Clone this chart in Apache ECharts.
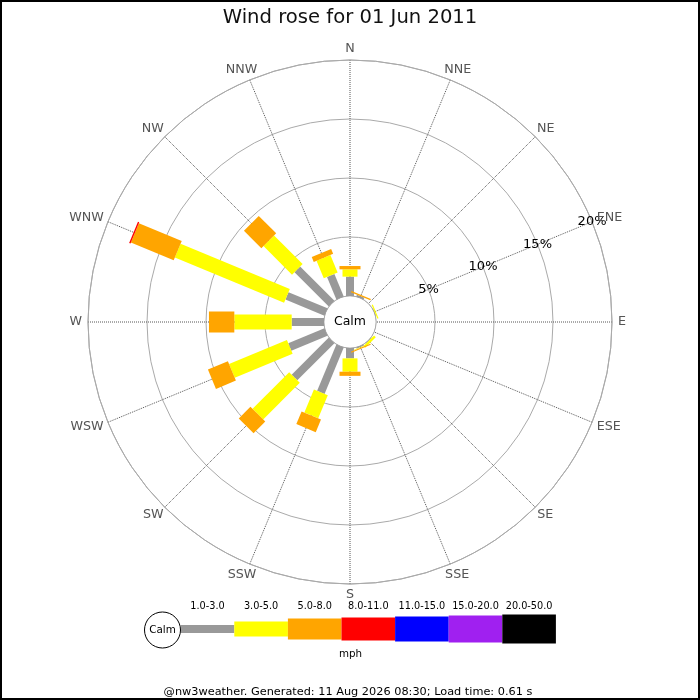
<!DOCTYPE html>
<html>
<head>
<meta charset="utf-8">
<title>Wind rose</title>
<script src="https://cdn.jsdelivr.net/npm/echarts@6/dist/echarts.min.js"></script>
<style>
  html, body { margin: 0; padding: 0; background: #fff; }
  #main { width: 700px; height: 700px; }
</style>
</head>
<body>
<div id="main"></div>
<script>
// compass points, clockwise from north
var directions = ['N', 'NNE', 'NE', 'ENE', 'E', 'ESE', 'SE', 'SSE', 'S', 'SSW', 'SW', 'WSW', 'W', 'WNW', 'NW', 'NNW'];
var speedBands = ['1.0-3.0', '3.0-5.0', '5.0-8.0', '8.0-11.0', '11.0-15.0', '15.0-20.0', '20.0-50.0'];
// % of time per direction, one array per speed band
var band1to3 = [1.64, 0.15, 0, 0.05, 0, 0, 0.05, 0.1, 0.88, 4.25, 4.45, 3.32, 2.74, 3.58, 4.11, 2.07];
var band3to5 = [0.62, 0, 0, 0.1, 0, 0, 0.2, 0.05, 1.13, 2.12, 4.39, 5.31, 4.86, 10.02, 3.42, 1.61];
var band5to8 = [0.28, 0.12, 0, 0, 0, 0, 0, 0.1, 0.35, 1.16, 1.40, 1.83, 2.15, 3.93, 2.09, 0.44];
var band8to11 = [0, 0, 0, 0, 0, 0, 0, 0, 0, 0, 0, 0, 0, 0.12, 0, 0];
var band11to15 = [0, 0, 0, 0, 0, 0, 0, 0, 0, 0, 0, 0, 0, 0, 0, 0];
var band15to20 = [0, 0, 0, 0, 0, 0, 0, 0, 0, 0, 0, 0, 0, 0, 0, 0];
var band20to50 = [0, 0, 0, 0, 0, 0, 0, 0, 0, 0, 0, 0, 0, 0, 0, 0];
var radiusTicks = [5, 10, 15, 20];

var bands = [band1to3, band3to5, band5to8, band8to11, band11to15, band15to20, band20to50];
// colour and bar thickness (px) of each band
var bandStyle = [
    {color: '#999999', width: 8},
    {color: '#ffff00', width: 15},
    {color: '#ffa500', width: 21},
    {color: '#ff0000', width: 23},
    {color: '#0000ff', width: 25},
    {color: '#a020f0', width: 27},
    {color: '#000000', width: 29}
];
var font = 'DejaVu Sans';
var dirFont = '12.7px "DejaVu Sans"';
var legFont = '10.8px "DejaVu Sans Condensed", "DejaVu Sans"';

var myChart = echarts.init(document.getElementById('main'));

// for measuring the compass labels
var ctx = document.createElement('canvas').getContext('2d');
ctx.font = dirFont;

// running totals so that each band starts where the previous one ended
var stacked = [];
var base = directions.map(function () { return 0; });
bands.forEach(function (b, k) {
    stacked.push(directions.map(function (d, i) {
        var s = base[i];
        base[i] += b[i];
        return [s, i * 22.5, base[i]];
    }));
});

function bandSeries(k) {
    return {
        type: 'custom',
        coordinateSystem: 'polar',
        name: speedBands[k],
        silent: true,
        data: stacked[k],
        renderItem: function (params, api) {
            var r0 = api.value(0), ang = api.value(1), r1 = api.value(2);
            if (r1 - r0 <= 0) return;
            var p0 = api.coord([r0, ang]);
            var p1 = api.coord([r1, ang]);
            var cx = params.coordSys.cx, cy = params.coordSys.cy;
            var dx = p1[0] - cx, dy = p1[1] - cy;
            var len = Math.sqrt(dx * dx + dy * dy);
            var nx = -dy / len * bandStyle[k].width / 2;
            var ny = dx / len * bandStyle[k].width / 2;
            return {
                type: 'polygon',
                shape: {points: [
                    [p0[0] + nx, p0[1] + ny], [p1[0] + nx, p1[1] + ny],
                    [p1[0] - nx, p1[1] - ny], [p0[0] - nx, p0[1] - ny]
                ]},
                style: {fill: bandStyle[k].color}
            };
        }
    };
}

var series = bands.map(function (b, k) { return bandSeries(k); });

// % labels along the ENE spoke
series.push({
    type: 'custom',
    coordinateSystem: 'polar',
    silent: true,
    z: 5,
    data: radiusTicks.map(function (v) { return [v, 67.5, v]; }),
    renderItem: function (params, api) {
        var p = api.coord([api.value(0), api.value(1)]);
        return {
            type: 'text',
            style: {
                text: api.value(0) + '%', x: p[0], y: p[1],
                textAlign: 'center', align: 'center',
                textVerticalAlign: 'middle', verticalAlign: 'middle',
                font: '13px "' + font + '"', fill: '#000'
            }
        };
    }
});

// compass labels just outside the outer ring
series.push({
    type: 'custom',
    coordinateSystem: 'polar',
    silent: true,
    z: 5,
    data: directions.map(function (d, i) { return [20, i * 22.5, i]; }),
    renderItem: function (params, api) {
        var cs = params.coordSys;
        var name = directions[api.value(2)];
        var th = (90 - api.value(1)) * Math.PI / 180;
        var rr = cs.r + 6;
        var w = ctx.measureText(name).width;
        var x = cs.cx + rr * Math.cos(th) + w / 2 * Math.cos(th);
        var y = cs.cy - rr * Math.sin(th) - 5 * Math.sin(th);
        return {
            type: 'text',
            style: {
                text: name, x: x, y: y,
                textAlign: 'center', align: 'center',
                textVerticalAlign: 'middle', verticalAlign: 'middle',
                font: dirFont, fill: '#555555'
            }
        };
    }
});

// legend drawn by hand, like the original image
var graphic = [
    {type: 'rect', shape: {x: 1, y: 1, width: 698, height: 698}, style: {fill: 'none', stroke: '#000', lineWidth: 2}, z: 100},
    {type: 'circle', shape: {cx: 350, cy: 322, r: 25.5}, style: {fill: '#fff'}, z: 50},
    {type: 'text', x: 350, y: 322, style: {text: 'Calm', textAlign: 'center', align: 'center', textVerticalAlign: 'middle', verticalAlign: 'middle', font: '12.5px "' + font + '"', fill: '#000'}, z: 51},
    {type: 'circle', shape: {cx: 162.5, cy: 630, r: 18}, style: {fill: '#fff', stroke: '#000', lineWidth: 1}, z: 60},
    {type: 'text', x: 162.5, y: 630, style: {text: 'Calm', textAlign: 'center', align: 'center', textVerticalAlign: 'middle', verticalAlign: 'middle', font: '10.4px "' + font + '"', fill: '#000'}, z: 61},
    {type: 'text', x: 350.5, y: 654, style: {text: 'mph', textAlign: 'center', align: 'center', textVerticalAlign: 'middle', verticalAlign: 'middle', font: '10.3px "' + font + '"', fill: '#000'}},
    {type: 'text', x: 348, y: 692, style: {text: '@nw3weather. Generated: 11 Aug 2026 08:30; Load time: 0.61 s', textAlign: 'center', align: 'center', textVerticalAlign: 'middle', verticalAlign: 'middle', font: '11.3px "' + font + '"', fill: '#000'}}
];
speedBands.forEach(function (label, k) {
    var x0 = 180.7 + k * 53.6;
    var h = bandStyle[k].width;
    graphic.push({type: 'rect', shape: {x: x0, y: 629 - h / 2, width: 53.6, height: h}, style: {fill: bandStyle[k].color}, z: 55});
    graphic.push({type: 'text', x: x0 + 26.8, y: 606.5, style: {text: label, textAlign: 'center', align: 'center', textVerticalAlign: 'middle', verticalAlign: 'middle', font: legFont, fill: '#000'}});
});

var option = {
    animation: false,
    backgroundColor: '#fff',
    title: {
        text: 'Wind rose for 01 Jun 2011',
        left: 'center',
        top: 3,
        textStyle: {fontFamily: font, fontSize: 19.6, fontWeight: 'normal', color: '#111'}
    },
    polar: {
        center: [350, 322],
        radius: [26, 262]
    },
    angleAxis: {
        type: 'value',
        min: 0,
        max: 360,
        interval: 22.5,
        startAngle: 90,
        clockwise: true,
        axisLine: {show: true, lineStyle: {color: '#aaaaaa', width: 1}},
        axisTick: {show: false},
        axisLabel: {show: false},
        splitLine: {show: true, lineStyle: {color: '#555555', type: 'dotted', width: 1}}
    },
    radiusAxis: {
        type: 'value',
        min: 0,
        max: 20,
        interval: 5,
        axisLine: {show: false},
        axisTick: {show: false},
        axisLabel: {show: false},
        splitLine: {show: true, lineStyle: {color: '#aaaaaa', width: 1}}
    },
    graphic: graphic,
    series: series
};
myChart.setOption(option);
</script>
</body>
</html>
